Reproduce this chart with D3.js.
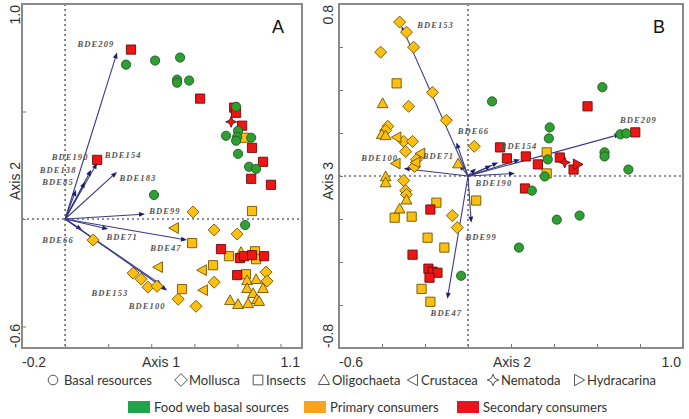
<!DOCTYPE html>
<html><head><meta charset="utf-8">
<script src="https://cdn.jsdelivr.net/npm/d3@7"></script>
<style>body{margin:0;background:#fff}svg{display:block}</style>
</head><body>
<svg id="c" width="689" height="419"></svg>
<script>
// ---------- DATA ----------
// shape codes: o circle, d diamond (Mollusca), s square (Insects), t triangle (Oligochaeta),
// c left triangle (Crustacea), n star (Nematoda), h right triangle (Hydracarina)
const shapeCodes  = ["o","d","s","t","c","n","h"];
const shapeLabels = ["Basal  resources","Mollusca","Insects","Oligochaeta","Crustacea","Nematoda","Hydracarina"];
const groupLabels = ["Food web basal sources","Primary consumers","Secondary consumers"];

// Panel A (Axis 1, Axis 2)
const basalA = [
  [0.283,0.718,"o"],[0.418,0.737,"o"],[0.534,0.751,"o"],[0.520,0.648,"o"],[0.520,0.634,"o"],
  [0.576,0.644,"o"],[0.794,0.522,"o"],[0.803,0.410,"o"],[0.747,0.387,"o"],[0.799,0.382,"o"],
  [0.794,0.364,"o"],[0.864,0.378,"o"],[0.803,0.303,"o"],[0.854,0.243,"o"],[0.887,0.233,"o"],
  [0.413,0.112,"o"],[0.836,-0.028,"o"]
];
const primaryA = [
  [0.831,0.378,"s"],[0.868,0.037,"s"],[0.594,0.033,"d"],[0.506,-0.042,"c"],[0.692,-0.051,"d"],
  [0.799,-0.070,"d"],[0.130,-0.098,"d"],[0.590,-0.112,"s"],[0.761,-0.173,"s"],[0.817,-0.154,"t"],
  [0.882,-0.150,"s"],[0.887,-0.187,"s"],[0.432,-0.224,"c"],[0.636,-0.238,"c"],[0.687,-0.215,"s"],
  [0.840,-0.257,"s"],[0.933,-0.247,"d"],[0.938,-0.289,"d"],[0.692,-0.294,"d"],[0.641,-0.331,"c"],
  [0.543,-0.326,"s"],[0.525,-0.373,"d"],[0.608,-0.406,"d"],[0.316,-0.252,"d"],[0.353,-0.280,"d"],
  [0.385,-0.317,"d"],[0.427,-0.313,"d"],[0.845,-0.285,"t"],[0.887,-0.280,"t"],[0.845,-0.322,"t"],
  [0.919,-0.322,"t"],[0.873,-0.345,"t"],[0.891,-0.373,"t"],[0.766,-0.378,"t"],[0.803,-0.396,"t"],
  [0.850,-0.392,"t"],[0.901,-0.382,"t"]
];
const secondaryA = [
  [0.306,0.788,"s"],[0.627,0.560,"s"],[0.785,0.518,"s"],[0.794,0.494,"s"],[0.822,0.434,"s"],
  [0.868,0.331,"s"],[0.919,0.266,"s"],[0.864,0.187,"s"],[0.956,0.159,"s"],[0.149,0.275,"s"],
  [0.724,-0.140,"s"],[0.812,-0.182,"s"],[0.831,-0.173,"s"],[0.868,-0.168,"s"],[0.924,-0.173,"s"],
  [0.799,-0.261,"s"],[0.771,0.452,"n"]
];
const arrowsA = [
  ["BDE209",0.241,0.774],["BDE154",0.149,0.261],["BDE190",0.121,0.229],["BDE138",0.093,0.173],
  ["BDE85",0.051,0.135],["BDE183",0.241,0.219],["BDE99",0.371,0.023],["BDE47",0.566,-0.098],
  ["BDE71",0.200,-0.047],["BDE66",0.079,-0.051],["BDE153",0.450,-0.308],["BDE100",0.474,-0.332]
];

// Panel B (Axis 2, Axis 3)
const basalB = [
  [0.625,0.413,"o"],[0.112,0.347,"o"],[0.380,0.226,"o"],[0.376,0.175,"o"],[0.709,0.194,"o"],
  [0.736,0.198,"o"],[0.635,0.110,"o"],[0.635,0.091,"o"],[0.746,0.030,"o"],[0.371,0.077,"o"],
  [0.357,-0.002,"o"],[0.297,-0.068,"o"],[0.413,-0.203,"o"],[0.519,-0.184,"o"],[0.237,-0.333,"o"],
  [-0.032,-0.464,"o"]
];
const primaryB = [
  [-0.318,0.716,"d"],[-0.286,0.669,"d"],[-0.253,0.599,"d"],[-0.406,0.576,"d"],[-0.165,0.389,"d"],
  [-0.276,0.324,"d"],[-0.101,0.259,"d"],[-0.373,0.231,"d"],[-0.383,0.212,"d"],[-0.299,0.161,"d"],
  [-0.258,0.161,"d"],[-0.290,0.114,"d"],[0.029,0.138,"d"],[-0.249,0.044,"d"],[-0.299,-0.021,"d"],
  [-0.290,-0.068,"d"],[-0.073,-0.184,"d"],[-0.050,-0.240,"d"],[-0.239,0.077,"d"],[-0.286,-0.086,"d"],
  [-0.332,0.431,"s"],[-0.341,-0.194,"s"],[-0.262,-0.189,"s"],[-0.147,-0.124,"s"],[0.038,-0.114,"s"],
  [-0.188,-0.287,"s"],[-0.110,-0.333,"s"],[-0.216,-0.525,"s"],[-0.175,-0.585,"s"],[0.366,0.110,"s"],
  [0.366,0.012,"s"],
  [-0.397,0.338,"t"],[-0.401,0.194,"t"],[-0.383,0.189,"t"],[-0.383,-0.002,"t"],[-0.383,-0.030,"t"],
  [-0.318,-0.152,"t"],[-0.286,-0.110,"t"],[-0.046,0.058,"t"],
  [-0.332,0.180,"c"],[-0.221,0.105,"c"],[-0.336,0.058,"c"],[-0.244,0.063,"c"]
];
const secondaryB = [
  [0.149,0.133,"s"],[0.181,0.082,"s"],[0.269,0.091,"s"],[0.325,0.054,"s"],[0.427,0.086,"s"],
  [0.491,0.030,"s"],[0.556,0.324,"s"],[0.778,0.203,"s"],[0.265,-0.058,"s"],[-0.175,-0.156,"s"],
  [-0.258,-0.366,"s"],[-0.184,-0.431,"s"],[-0.165,-0.445,"s"],[-0.142,-0.450,"s"],[-0.179,-0.473,"s"],
  [0.450,0.063,"n"],[0.510,0.054,"h"]
];
const arrowsB = [
  ["BDE153",-0.309,0.697],["BDE66",-0.054,0.156],["BDE71",-0.040,0.054],["BDE100",-0.299,0.035],
  ["BDE190",0.218,0.012],["BDE99",0.015,-0.217],["BDE47",-0.096,-0.571],["BDE209",0.709,0.194],
  ["BDE154",0.242,0.077],["",0.140,0.063],["",0.108,0.049],["",0.037,0.035]
];

const domainA = {x:[-0.2,1.1], y:[-0.6,1.0]};
const domainB = {x:[-0.6,1.0], y:[-0.8,0.8]};
const xTicksA = [0,0.2,0.4,0.6,0.8,1.0], yTicksA = [-0.5,0,0.5];
const xTicksB = [-0.4,-0.2,0,0.2,0.4,0.6,0.8], yTicksB = [-0.6,-0.4,-0.2,0,0.2,0.4,0.6];

// ---------- LAYOUT / STYLE ----------
const labelOffA = {BDE209:[-21,-9],BDE154:[26,-8],BDE190:[-21,-13],BDE138:[-27,-12],BDE85:[-18,-8],
  BDE183:[21,6],BDE99:[20,-3],BDE47:[-21,8],BDE71:[14,8],BDE66:[-24,10],BDE153:[-52,8],BDE100:[-20,16]};
const labelOffB = {BDE153:[34,-1],BDE66:[17,-11],BDE71:[-21,-8],BDE100:[-24,-10],BDE190:[-21,10],
  BDE99:[10,14],BDE47:[-1,14],BDE209:[18,-14],BDE154:[-1,-13]};
const fills = {g:"#2f9e33", p:"#fdc010", s:"#ee1515"};
const strokes = {g:"#1c5a1f", p:"#6e5300", s:"#6a0b0b"};
const legendFills = ["#1fa44c","#f8a41e","#e8141b"];

const svg = d3.select("#c");

function shapePath(t, cx, cy, k){
  k = k || 1;
  const p = d3.path();
  if (t==="o"){ p.arc(cx,cy,4.6*k,0,2*Math.PI); p.closePath(); }
  else if (t==="s"){ const h=4.6*k; p.rect(cx-h,cy-h,2*h,2*h); }
  else if (t==="d"){ const h=6*k; p.moveTo(cx,cy-h);p.lineTo(cx+h,cy);p.lineTo(cx,cy+h);p.lineTo(cx-h,cy);p.closePath(); }
  else if (t==="t"){ const h=5.4*k; p.moveTo(cx,cy-h);p.lineTo(cx+h,cy+h*0.8);p.lineTo(cx-h,cy+h*0.8);p.closePath(); }
  else if (t==="c"){ const h=5.4*k; p.moveTo(cx-h,cy);p.lineTo(cx+h*0.8,cy-h);p.lineTo(cx+h*0.8,cy+h);p.closePath(); }
  else if (t==="h"){ const h=5.4*k; p.moveTo(cx+h,cy);p.lineTo(cx-h*0.8,cy-h);p.lineTo(cx-h*0.8,cy+h);p.closePath(); }
  else if (t==="n"){ const a=5.5*k,b=1.6*k;
    p.moveTo(cx,cy-a);p.lineTo(cx+b,cy-b);p.lineTo(cx+a,cy);p.lineTo(cx+b,cy+b);
    p.lineTo(cx,cy+a);p.lineTo(cx-b,cy+b);p.lineTo(cx-a,cy);p.lineTo(cx-b,cy-b);p.closePath(); }
  return p.toString();
}

function panel(cfg){
  const {left,right,top,bottom,dom,xt,yt,basal,primary,secondary,arrows,offs,letter,xTitle,yTitle,xLab,yLab,yLabX} = cfg;
  const x = d3.scaleLinear().domain(dom.x).range([left,right]);
  const y = d3.scaleLinear().domain(dom.y).range([bottom,top]);
  const g = svg.append("g");
  // dotted zero lines
  g.append("line").attr("x1",x(0)).attr("x2",x(0)).attr("y1",top).attr("y2",bottom)
    .attr("stroke","#222").attr("stroke-width",1.1).attr("stroke-dasharray","2,3");
  g.append("line").attr("x1",left).attr("x2",right).attr("y1",y(0)).attr("y2",y(0))
    .attr("stroke","#222").attr("stroke-width",1.1).attr("stroke-dasharray","2,3");
  // axes ticks (inside)
  g.append("g").attr("transform",`translate(0,${bottom})`)
    .call(d3.axisBottom(x).tickValues(xt).tickSize(-4).tickFormat(""))
    .call(a=>{a.select(".domain").remove(); a.selectAll("line").attr("stroke","#777");});
  g.append("g").attr("transform",`translate(${left},0)`)
    .call(d3.axisLeft(y).tickValues(yt).tickSize(-4).tickFormat(""))
    .call(a=>{a.select(".domain").remove(); a.selectAll("line").attr("stroke","#777");});
  // frame
  g.append("rect").attr("x",left).attr("y",top).attr("width",right-left).attr("height",bottom-top)
    .attr("fill","none").attr("stroke","#8a8a8a").attr("stroke-width",2);
  // arrows
  const ox = x(0), oy = y(0);
  arrows.forEach(([name,vx,vy])=>{
    const tx=x(vx), ty=y(vy);
    const ang=Math.atan2(ty-oy,tx-ox), L=6, W=2.4;
    const bx=tx-L*Math.cos(ang), by=ty-L*Math.sin(ang);
    g.append("line").attr("x1",ox).attr("y1",oy).attr("x2",bx).attr("y2",by)
      .attr("stroke","#3a3a86").attr("stroke-width",1.1);
    g.append("path").attr("d",`M${tx},${ty}L${bx-W*Math.sin(ang)},${by+W*Math.cos(ang)}L${bx+W*Math.sin(ang)},${by-W*Math.cos(ang)}Z`)
      .attr("fill","#1d1d70");
  });
  // points
  [[primary,"p"],[secondary,"s"],[basal,"g"]].forEach(([arr,gr])=>{
    g.selectAll(null).data(arr).enter().append("path")
      .attr("d",d=>shapePath(d[2],x(d[0]),y(d[1])))
      .attr("fill",fills[gr]).attr("stroke",strokes[gr]).attr("stroke-width",0.9);
  });
  // arrow labels
  arrows.forEach(([name,vx,vy])=>{
    if(!name) return;
    const o = offs[name];
    g.append("text").attr("x",x(vx)+o[0]).attr("y",y(vy)+o[1]+3)
      .attr("text-anchor","middle").attr("font-family","Liberation Serif, serif")
      .attr("font-style","italic").attr("font-weight","bold").attr("font-size",8.5)
      .attr("letter-spacing",1.1).attr("fill","#555").text(name);
  });
  // panel letter
  g.append("text").attr("x",right-24).attr("y",top+29).attr("text-anchor","middle")
    .attr("font-family","Liberation Sans, Arial, sans-serif").attr("font-size",18).attr("fill","#111").text(letter);
  // tick end labels and titles
  const tf = "Liberation Sans, Arial, sans-serif";
  const base = bottom+19;
  g.append("text").attr("x",left).attr("y",base).attr("font-family",tf).attr("font-size",14).attr("fill","#333").text(xLab[0]);
  g.append("text").attr("x",right-2).attr("y",base).attr("text-anchor","end").attr("font-family",tf).attr("font-size",14).attr("fill","#333").text(xLab[1]);
  g.append("text").attr("x",(left+right)/2+cfg.xTitleDx).attr("y",base).attr("text-anchor","middle").attr("font-family",tf).attr("font-size",14).attr("fill","#333").text(xTitle);
  const rot=(yy,anchor,txt)=>g.append("text").attr("transform",`translate(${yLabX},${yy}) rotate(-90)`)
    .attr("text-anchor",anchor).attr("font-family",tf).attr("font-size",14).attr("fill","#333").text(txt);
  rot(top+1,"end",yLab[1]);
  rot(bottom,"start",yLab[0]);
  rot(181,"middle",yTitle);
}

panel({left:22,right:302,top:4,bottom:348,dom:domainA,xt:xTicksA,yt:yTicksA,basal:basalA,primary:primaryA,
  secondary:secondaryA,arrows:arrowsA,offs:labelOffA,letter:"A",xTitle:"Axis 1",yTitle:"Axis 2",
  xLab:["-0.2","1.1"],yLab:["-0.6","1.0"],yLabX:20,xTitleDx:-1});
panel({left:339,right:683,top:4,bottom:348,dom:domainB,xt:xTicksB,yt:yTicksB,basal:basalB,primary:primaryB,
  secondary:secondaryB,arrows:arrowsB,offs:labelOffB,letter:"B",xTitle:"Axis 2",yTitle:"Axis 3",
  xLab:["-0.6","1.0"],yLab:["-0.8","0.8"],yLabX:333,xTitleDx:1});

// ---------- LEGENDS ----------
const lf = "Lato, 'Open Sans', sans-serif";
const leg1 = svg.append("g");
const leg1X = [53,181,258,324,413,493,579];
shapeCodes.forEach((s,i)=>{
  leg1.append("path").attr("d",shapePath(s,leg1X[i],380,1.05)).attr("fill","none")
    .attr("stroke","#555").attr("stroke-width",1);
  leg1.append("text").attr("x",leg1X[i]+(i===0?11:8)).attr("y",384.5).attr("font-family",lf)
    .attr("font-size",13).attr("fill","#333").text(shapeLabels[i]);
});
const leg2 = svg.append("g");
const leg2X = [128,304,457];
groupLabels.forEach((t,i)=>{
  leg2.append("rect").attr("x",leg2X[i]).attr("y",401).attr("width",22).attr("height",12).attr("fill",legendFills[i]);
  leg2.append("text").attr("x",leg2X[i]+26).attr("y",411.5).attr("font-family",lf)
    .attr("font-size",13).attr("fill","#333").text(t);
});
</script>
</body></html>
